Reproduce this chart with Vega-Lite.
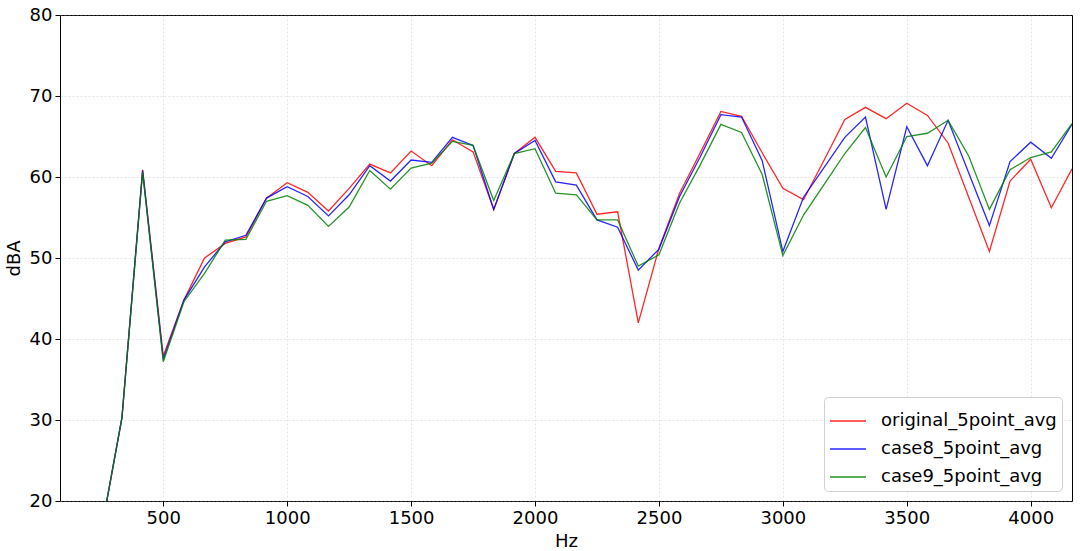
{
  "$schema": "https://vega.github.io/schema/vega-lite/v6.json",
  "width": 1012,
  "height": 486,
  "autosize": "none",
  "padding": {"left": 60, "top": 15, "right": 8, "bottom": 50},
  "config": {
    "font": "DejaVu Sans",
    "view": {"stroke": "#000", "strokeWidth": 1},
    "axis": {
      "domain": false,
      "labelFontSize": 18,
      "labelColor": "#000",
      "titleFontSize": 18,
      "titleFontWeight": "normal",
      "titleColor": "#000",
      "tickColor": "#000",
      "tickSize": 5,
      "labelPadding": 3,
      "gridColor": "#b0b0b0",
      "gridOpacity": 0.4,
      "gridDash": [2, 2],
      "gridWidth": 0.8
    }
  },
  "data": {
    "values": [
      {"hz": 83.33, "original_5point_avg": 4.0, "case8_5point_avg": 4.0, "case9_5point_avg": 4.0},
      {"hz": 166.67, "original_5point_avg": 9.0, "case8_5point_avg": 9.0, "case9_5point_avg": 9.0},
      {"hz": 250.0, "original_5point_avg": 16.3, "case8_5point_avg": 16.3, "case9_5point_avg": 16.3},
      {"hz": 333.33, "original_5point_avg": 30.3, "case8_5point_avg": 30.3, "case9_5point_avg": 30.3},
      {"hz": 416.67, "original_5point_avg": 60.9, "case8_5point_avg": 60.8, "case9_5point_avg": 60.6},
      {"hz": 500.0, "original_5point_avg": 37.9, "case8_5point_avg": 37.5, "case9_5point_avg": 37.2},
      {"hz": 583.33, "original_5point_avg": 44.8, "case8_5point_avg": 44.8, "case9_5point_avg": 44.6},
      {"hz": 666.67, "original_5point_avg": 50.0, "case8_5point_avg": 48.9, "case9_5point_avg": 48.1},
      {"hz": 750.0, "original_5point_avg": 51.8, "case8_5point_avg": 52.0, "case9_5point_avg": 52.2},
      {"hz": 833.33, "original_5point_avg": 52.6, "case8_5point_avg": 52.8, "case9_5point_avg": 52.3},
      {"hz": 916.67, "original_5point_avg": 57.4, "case8_5point_avg": 57.4, "case9_5point_avg": 57.0},
      {"hz": 1000.0, "original_5point_avg": 59.3, "case8_5point_avg": 58.8, "case9_5point_avg": 57.7},
      {"hz": 1083.33, "original_5point_avg": 58.1, "case8_5point_avg": 57.6, "case9_5point_avg": 56.5},
      {"hz": 1166.67, "original_5point_avg": 55.8, "case8_5point_avg": 55.2, "case9_5point_avg": 53.9},
      {"hz": 1250.0, "original_5point_avg": 58.6, "case8_5point_avg": 57.8, "case9_5point_avg": 56.3},
      {"hz": 1333.33, "original_5point_avg": 61.6, "case8_5point_avg": 61.4, "case9_5point_avg": 60.8},
      {"hz": 1416.67, "original_5point_avg": 60.5, "case8_5point_avg": 59.5, "case9_5point_avg": 58.5},
      {"hz": 1500.0, "original_5point_avg": 63.2, "case8_5point_avg": 62.1, "case9_5point_avg": 61.1},
      {"hz": 1583.33, "original_5point_avg": 61.4, "case8_5point_avg": 61.8, "case9_5point_avg": 61.7},
      {"hz": 1666.67, "original_5point_avg": 64.6, "case8_5point_avg": 64.9, "case9_5point_avg": 64.4},
      {"hz": 1750.0, "original_5point_avg": 63.1, "case8_5point_avg": 63.9, "case9_5point_avg": 63.9},
      {"hz": 1833.33, "original_5point_avg": 56.0, "case8_5point_avg": 56.0, "case9_5point_avg": 57.1},
      {"hz": 1916.67, "original_5point_avg": 62.9, "case8_5point_avg": 62.9, "case9_5point_avg": 62.9},
      {"hz": 2000.0, "original_5point_avg": 64.9, "case8_5point_avg": 64.5, "case9_5point_avg": 63.5},
      {"hz": 2083.33, "original_5point_avg": 60.7, "case8_5point_avg": 59.4, "case9_5point_avg": 58.0},
      {"hz": 2166.67, "original_5point_avg": 60.5, "case8_5point_avg": 59.0, "case9_5point_avg": 57.8},
      {"hz": 2250.0, "original_5point_avg": 55.4, "case8_5point_avg": 54.7, "case9_5point_avg": 54.7},
      {"hz": 2333.33, "original_5point_avg": 55.7, "case8_5point_avg": 53.8, "case9_5point_avg": 54.7},
      {"hz": 2416.67, "original_5point_avg": 42.0, "case8_5point_avg": 48.5, "case9_5point_avg": 49.0},
      {"hz": 2500.0, "original_5point_avg": 51.2, "case8_5point_avg": 51.1, "case9_5point_avg": 50.4},
      {"hz": 2583.33, "original_5point_avg": 58.0, "case8_5point_avg": 57.6, "case9_5point_avg": 56.8},
      {"hz": 2666.67, "original_5point_avg": 63.0, "case8_5point_avg": 62.5, "case9_5point_avg": 61.5},
      {"hz": 2750.0, "original_5point_avg": 68.1, "case8_5point_avg": 67.7, "case9_5point_avg": 66.5},
      {"hz": 2833.33, "original_5point_avg": 67.5, "case8_5point_avg": 67.4, "case9_5point_avg": 65.5},
      {"hz": 2916.67, "original_5point_avg": 63.0, "case8_5point_avg": 62.0, "case9_5point_avg": 60.3},
      {"hz": 3000.0, "original_5point_avg": 58.6, "case8_5point_avg": 50.8, "case9_5point_avg": 50.3},
      {"hz": 3083.33, "original_5point_avg": 57.2, "case8_5point_avg": 57.5, "case9_5point_avg": 55.3},
      {"hz": 3166.67, "original_5point_avg": 62.1, "case8_5point_avg": 61.2, "case9_5point_avg": 59.1},
      {"hz": 3250.0, "original_5point_avg": 67.1, "case8_5point_avg": 64.9, "case9_5point_avg": 62.9},
      {"hz": 3333.33, "original_5point_avg": 68.6, "case8_5point_avg": 67.4, "case9_5point_avg": 66.1},
      {"hz": 3416.67, "original_5point_avg": 67.2, "case8_5point_avg": 56.0, "case9_5point_avg": 60.0},
      {"hz": 3500.0, "original_5point_avg": 69.1, "case8_5point_avg": 66.2, "case9_5point_avg": 65.0},
      {"hz": 3583.33, "original_5point_avg": 67.6, "case8_5point_avg": 61.4, "case9_5point_avg": 65.4},
      {"hz": 3666.67, "original_5point_avg": 64.2, "case8_5point_avg": 67.0, "case9_5point_avg": 67.0},
      {"hz": 3750.0, "original_5point_avg": 57.5, "case8_5point_avg": 60.5, "case9_5point_avg": 62.6},
      {"hz": 3833.33, "original_5point_avg": 50.8, "case8_5point_avg": 54.0, "case9_5point_avg": 56.0},
      {"hz": 3916.67, "original_5point_avg": 59.5, "case8_5point_avg": 61.9, "case9_5point_avg": 60.9},
      {"hz": 4000.0, "original_5point_avg": 62.2, "case8_5point_avg": 64.3, "case9_5point_avg": 62.4},
      {"hz": 4083.33, "original_5point_avg": 56.2, "case8_5point_avg": 62.3, "case9_5point_avg": 63.1},
      {"hz": 4166.67, "original_5point_avg": 61.0, "case8_5point_avg": 66.5, "case9_5point_avg": 66.6}
    ]
  },
  "transform": [
    {"fold": ["original_5point_avg", "case8_5point_avg", "case9_5point_avg"], "as": ["series", "dBA"]}
  ],
  "mark": {"type": "line", "clip": true, "strokeWidth": 1.3, "opacity": 0.85},
  "encoding": {
    "x": {
      "field": "hz",
      "type": "quantitative",
      "scale": {"domain": [83.33, 4166.67], "nice": false, "zero": false},
      "axis": {"title": "Hz", "format": "d", "values": [500, 1000, 1500, 2000, 2500, 3000, 3500, 4000], "titlePadding": 5}
    },
    "y": {
      "field": "dBA",
      "type": "quantitative",
      "scale": {"domain": [20, 80], "nice": false, "zero": false},
      "axis": {"title": "dBA", "values": [20, 30, 40, 50, 60, 70, 80], "titlePadding": 6}
    },
    "color": {
      "field": "series",
      "type": "nominal",
      "scale": {
        "domain": ["original_5point_avg", "case8_5point_avg", "case9_5point_avg"],
        "range": ["#ff0000", "#0000ff", "#008000"]
      },
      "legend": {
        "title": null,
        "orient": "bottom-right",
        "offset": 10,
        "symbolType": "stroke",
        "symbolSize": 1300,
        "symbolStrokeWidth": 1.5,
        "symbolOpacity": 0.85,
        "labelFontSize": 18,
        "labelColor": "#000",
        "labelLimit": 0,
        "labelOffset": 14,
        "rowPadding": -11.5,
        "padding": 5,
        "fillColor": "#ffffff",
        "strokeColor": "#d0d0d0",
        "cornerRadius": 4
      }
    }
  }
}
